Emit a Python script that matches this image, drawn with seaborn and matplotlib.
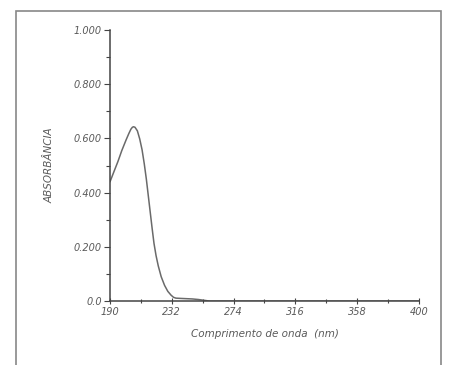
import numpy as np
import pandas as pd
import seaborn as sns
import matplotlib.pyplot as plt
from matplotlib.patches import Rectangle

# Spectrum
wavelength = [190, 192.5, 195.4, 198, 200.9, 202.8, 204.2, 205.2, 206, 207, 208.6, 210.2,
              211.8, 213.3, 214.7, 216, 217.3, 218.6, 219.9, 221.3, 222.8, 224.8, 227.1,
              229.3, 231.5, 233.2, 234.8, 238, 242, 246, 250, 254, 258, 300, 350, 400]
absorbance = [0.44, 0.475, 0.515, 0.555, 0.594, 0.618, 0.634, 0.641, 0.643, 0.641, 0.628, 0.598,
              0.558, 0.506, 0.45, 0.39, 0.33, 0.27, 0.213, 0.168, 0.13, 0.09, 0.058,
              0.036, 0.022, 0.014, 0.011, 0.01, 0.009, 0.008, 0.006, 0.003, 0.0, 0.0, 0.0, 0.0]

x_ticks = [190, 232, 274, 316, 358, 400]
y_ticks = [0.0, 0.2, 0.4, 0.6, 0.8, 1.0]
y_labels = ['0.0', '0.200', '0.400', '0.600', '0.800', '1.000']

df = pd.DataFrame({'wl': wavelength, 'abs': absorbance})

sns.set_style('ticks')
plt.rcParams['font.family'] = ['DejaVu Sans']
grey = '#5a5a5a'

fig = plt.figure(figsize=(4.49, 3.65), dpi=100)
ax = fig.add_axes([0.245, 0.175, 0.688, 0.743])

sns.lineplot(data=df, x='wl', y='abs', ax=ax, color='#6a6a6a', linewidth=1.1)

ax.set_xlim(190, 400)
ax.set_ylim(0, 1.0)
ax.set_xticks(x_ticks)
ax.set_xticklabels([str(t) for t in x_ticks])
ax.set_yticks(y_ticks)
ax.set_yticklabels(y_labels)
ax.set_xticks([211, 253, 295, 337, 379], minor=True)
ax.set_yticks([0.1, 0.3, 0.5, 0.7, 0.9], minor=True)

for lab in ax.get_xticklabels() + ax.get_yticklabels():
    lab.set_fontstyle('italic')
    lab.set_fontsize(7)
    lab.set_color(grey)

ax.tick_params(axis='both', which='major', length=4, width=0.8, color='#444444', pad=2)
ax.tick_params(axis='x', which='both', direction='inout')
ax.tick_params(axis='both', which='minor', length=3, width=0.8, color='#444444')

sns.despine(ax=ax)
for s in ['left', 'bottom']:
    ax.spines[s].set_color('#444444')
    ax.spines[s].set_linewidth(1.1)

ax.set_xlabel('Comprimento de onda  (nm)', fontsize=7.5, fontstyle='italic', color=grey, labelpad=9)
ax.set_ylabel('ABSORBÂNCIA', fontsize=7.5, fontstyle='italic', color=grey, labelpad=14)

# page frame from the scan
fig.patches.append(Rectangle((0.035, -0.05), 0.947, 1.02, transform=fig.transFigure,
                             fill=False, edgecolor='#888888', linewidth=1.2))

fig.savefig('out.png', dpi=100)
